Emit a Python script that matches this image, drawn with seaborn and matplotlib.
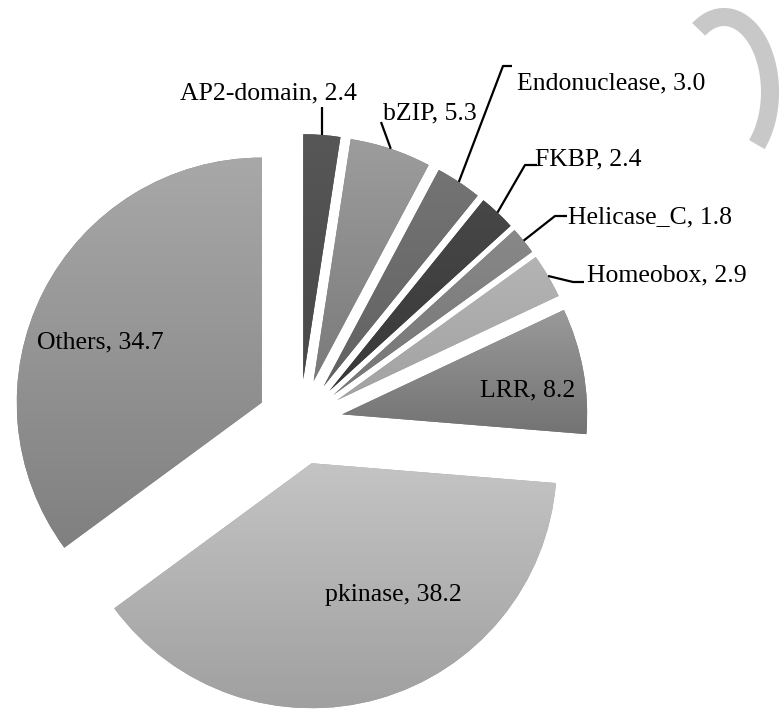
import numpy as np
import matplotlib
matplotlib.use("Agg")
import matplotlib.pyplot as plt
import seaborn as sns
from matplotlib.patches import Arc

# ---- data ----
categories = ["AP2-domain", "bZIP", "Endonuclease", "FKBP", "Helicase_C",
              "Homeobox", "LRR", "pkinase", "Others"]
values = [2.4, 5.3, 3.0, 2.4, 1.8, 2.9, 8.2, 38.2, 34.7]
value_labels = ["2.4", "5.3", "3.0", "2.4", "1.8", "2.9", "8.2", "38.2", "34.7"]

# ---- style ----
tops = ["#575757", "#9d9d9d", "#747474", "#474747", "#888888", "#b4b4b4", "#9a9a9a", "#c4c4c4", "#a8a8a8"]
bots = ["#484848", "#7a7a7a", "#626262", "#393939", "#767676", "#a2a2a2", "#737373", "#a0a0a0", "#808080"]

sns.set_theme(style="white")
plt.rcParams["font.family"] = "serif"
plt.rcParams["font.serif"] = ["Liberation Serif", "DejaVu Serif"]

W, H, DPI = 780, 709, 100
R_PX = 245.0
CX, CY = 300.0, 422.0

fig = plt.figure(figsize=(W / DPI, H / DPI), dpi=DPI)
ax = fig.add_axes([0, 0, 1, 1])


def px(x, y):
    return ((x - CX) / R_PX, (CY - y) / R_PX)


wedges, _ = ax.pie(values, explode=[0.175] * len(values), startangle=90,
                   counterclock=False, colors=bots, radius=1.0,
                   wedgeprops=dict(linewidth=0))

# vertical gradient fill per slice
for w, t, b in zip(wedges, tops, bots):
    cx, cy = w.center
    th = np.linspace(np.radians(w.theta1), np.radians(w.theta2), 100)
    xs = np.concatenate([[cx], cx + w.r * np.cos(th)])
    ys = np.concatenate([[cy], cy + w.r * np.sin(th)])
    c1 = np.array(matplotlib.colors.to_rgb(t))
    c2 = np.array(matplotlib.colors.to_rgb(b))
    f = np.linspace(0, 1, 256)[:, None]
    grad = (c1[None, :] * (1 - f) + c2[None, :] * f)[:, None, :]
    im = ax.imshow(grad, extent=[xs.min(), xs.max(), ys.min(), ys.max()],
                   origin="upper", aspect="auto", interpolation="bilinear", zorder=2)
    im.set_clip_path(w)


def arc_mid(w):
    cx, cy = w.center
    m = np.radians((w.theta1 + w.theta2) / 2)
    return cx + w.r * np.cos(m), cy + w.r * np.sin(m)


fs = 18.5
labels = [f"{c}, {v}" for c, v in zip(categories, value_labels)]

# inside labels
inside = {6: (528, 390), 7: (393, 595), 8: (100, 342)}
for i, (x, y) in inside.items():
    ax.text(*px(x, y), labels[i], ha="center", va="center", fontsize=fs, color="black", zorder=5)

# outside labels with leader lines
outside = {
    0: ((357, 93), "right", [(322, 107)]),
    1: ((383, 113), "left", [(381, 122)]),
    2: ((517, 83), "left", [(512, 66), (503, 66)]),
    3: ((535, 159), "left", [(537, 165), (525, 165)]),
    4: ((568, 217), "left", [(567, 216), (555, 216)]),
    5: ((587, 275), "left", [(584, 282), (573, 282)]),
}
for i, ((tx, ty), ha, pts) in outside.items():
    ax.text(*px(tx, ty), labels[i], ha=ha, va="center", fontsize=fs, color="black", zorder=5)
    end = arc_mid(wedges[i])
    if i == 0:
        end = (px(322, 0)[0], end[1])
    line = [px(*p) for p in pts] + [end]
    ax.plot([p[0] for p in line], [p[1] for p in line], color="black", lw=1.6,
            solid_capstyle="butt", zorder=5)

# decorative grey crescent at top right of the reference
ac = px(724, 92)
ax.add_patch(Arc(ac, 92 / R_PX, 150 / R_PX, theta1=-58, theta2=112,
                 lw=13, color="#c8c8c8", zorder=1))

ax.set_aspect("auto")
ax.set_xlim(-CX / R_PX, (W - CX) / R_PX)
ax.set_ylim(-(H - CY) / R_PX, CY / R_PX)
ax.axis("off")

fig.savefig("out.png", dpi=DPI, facecolor="white")
